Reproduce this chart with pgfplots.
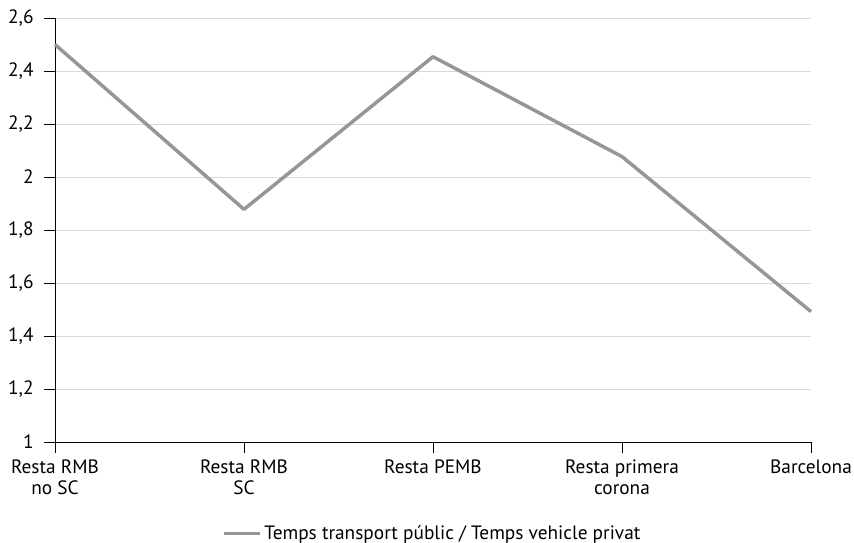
\documentclass[border=0pt]{standalone}
\usepackage{fontspec}
\setmainfont{PT Sans}
\usepackage{pgfplots}
\pgfplotsset{compat=1.18}
\definecolor{linegray}{RGB}{150,150,150}
\definecolor{gridgray}{RGB}{218,218,218}
\begin{document}
\fontsize{14.5}{16}\selectfont
\begin{tikzpicture}
\begin{axis}[
  scale only axis,
  width=567pt, height=318pt,
  xmin=0, xmax=4, ymin=1, ymax=2.6,
  ytick={1,1.2,...,2.6},
  xtick={0,1,2,3,4},
  xticklabels={{Resta RMB\\no SC},{Resta RMB\\SC},{Resta PEMB},{Resta primera\\corona},{Barcelona}},
  xticklabel style={align=center, font=\fontsize{14.5}{16}\selectfont},
  yticklabel style={font=\fontsize{14.5}{16}\selectfont, xshift=-3pt},
  /pgf/number format/assume math mode=true,
  /pgf/number format/use comma,
  /pgf/number format/precision=1,
  axis x line*=bottom, axis y line*=left,
  axis line style={black, line width=0.6pt, -},
  ymajorgrids, grid style={gridgray, line width=0.7pt},
  tick style={black, line width=0.6pt},
  major tick length=8pt,
  tick align=outside,
  legend style={at={(0.5,-0.243)}, anchor=south, draw=none, inner sep=0pt, font=\fontsize{14.5}{16}\selectfont},
  legend image code/.code={\draw[#1, line width=2.2pt] (0pt,0pt) -- (27pt,0pt);},
  legend cell align=left,
  clip=false,
]
\addplot[linegray, line width=2.6pt, line join=round] coordinates {
  (0,2.50) (1,1.878) (2,2.454) (3,2.077) (4,1.492)
};
\addlegendentry{Temps transport públic / Temps vehicle privat}
\end{axis}
\pgfresetboundingbox
\path ([shift={(-41.25pt,-75.75pt)}]current axis.south west) rectangle ([shift={(32.25pt,13.5pt)}]current axis.north east);
\end{tikzpicture}
\end{document}
